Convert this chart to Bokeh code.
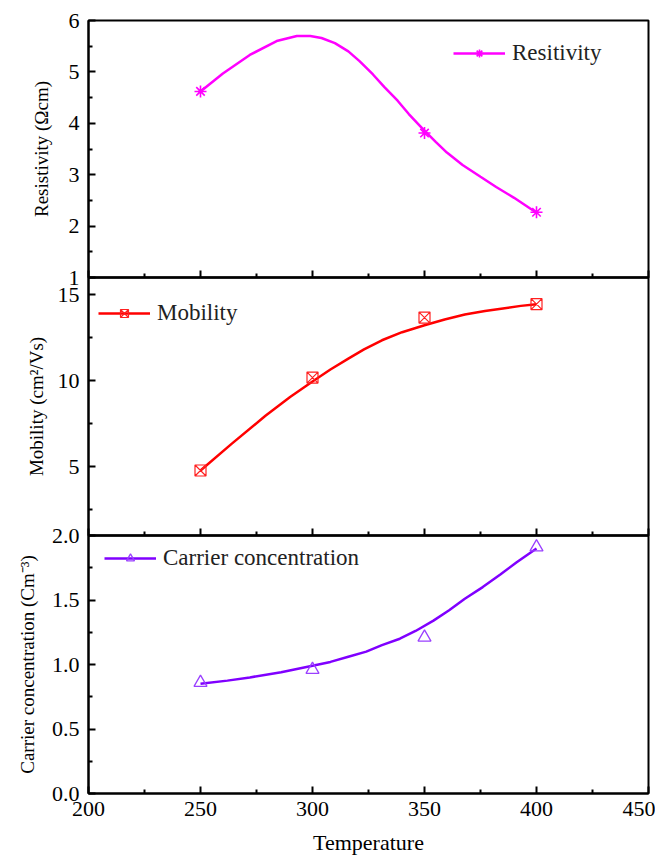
from bokeh.plotting import figure
from bokeh.layouts import column
from bokeh.models import Range1d, FixedTicker, Legend, LegendItem
from bokeh.embed import file_html
from bokeh.resources import INLINE

# ---- data ----
x_ticks = [200, 250, 300, 350, 400, 450]
x_minor = [225, 275, 325, 375, 425]

# Resistivity
res_t = [250, 350, 400]
res_v = [4.62, 3.81, 2.27]
res_curve_t = [250, 260, 272, 284, 293, 299, 304, 310, 316, 321, 327, 332, 338, 343,
               349, 355, 360, 367, 375, 382, 390, 400]
res_curve_v = [4.62, 4.97, 5.33, 5.60, 5.70, 5.70, 5.66, 5.56, 5.40, 5.21, 4.95, 4.71,
               4.44, 4.18, 3.90, 3.64, 3.43, 3.19, 2.96, 2.76, 2.55, 2.26]
res_ticks = [1, 2, 3, 4, 5, 6]
res_minor = [1.5, 2.5, 3.5, 4.5, 5.5]

# Mobility
mob_t = [250, 300, 350, 400]
mob_v = [4.78, 10.18, 13.67, 14.45]
mob_curve_t = [250, 264, 279, 290, 300, 308, 316, 323, 331, 340, 350, 359, 368, 377, 385, 393, 400]
mob_curve_v = [4.78, 6.34, 7.96, 9.05, 9.95, 10.65, 11.28, 11.82, 12.35, 12.82, 13.22,
               13.56, 13.85, 14.05, 14.20, 14.35, 14.45]
mob_ticks = [5, 10, 15]
mob_minor = [2.5, 7.5, 12.5]

# Carrier concentration
car_t = [250, 300, 350, 400]
car_v = [0.86, 0.96, 1.21, 1.91]
car_curve_t = [250, 262, 272, 286, 300, 308, 316, 324, 331, 339, 346, 354, 361, 368, 376, 384, 391, 400]
car_curve_v = [0.85, 0.875, 0.90, 0.94, 0.99, 1.02, 1.06, 1.10, 1.15, 1.20, 1.26, 1.34,
               1.42, 1.51, 1.60, 1.70, 1.79, 1.90]
car_ticks = [0.0, 0.5, 1.0, 1.5, 2.0]
car_tick_labels = ["0.0", "0.5", "1.0", "1.5", "2.0"]
car_minor = [0.25, 0.75, 1.25, 1.75]

FONT = "Liberation Serif"
TICK_FS = "22px"
YLABEL_FS = "19px"
XLABEL_FS = "22px"
LEG_FS = "23px"


def make_fig(yr, ticks, minor, frame_h, top, bottom, ylabel, standoff, show_x):
    p = figure(frame_width=560, frame_height=frame_h, output_backend="svg",
               toolbar_location=None, x_range=Range1d(200, 450), y_range=Range1d(*yr),
               min_border_left=88, min_border_right=7, min_border_top=top,
               min_border_bottom=bottom)
    p.grid.visible = False
    p.outline_line_color = "black"
    p.outline_line_width = 2
    p.outline_line_alpha = 1
    p.background_fill_color = None
    p.border_fill_color = None
    for ax in (p.xaxis[0], p.yaxis[0]):
        ax.axis_line_width = 2
        ax.axis_line_color = "black"
        ax.major_tick_in = 7
        ax.major_tick_out = 0
        ax.minor_tick_in = 4
        ax.minor_tick_out = 0
        ax.major_tick_line_width = 2
        ax.minor_tick_line_width = 2
        ax.major_label_text_font = FONT
        ax.major_label_text_font_size = TICK_FS
        ax.major_label_text_color = "black"
        ax.axis_label_text_font = FONT
        ax.axis_label_text_font_style = "normal"
        ax.axis_label_text_color = "black"
    p.xaxis.ticker = FixedTicker(ticks=x_ticks, minor_ticks=x_minor)
    p.yaxis.ticker = FixedTicker(ticks=ticks, minor_ticks=minor)
    p.yaxis.axis_label = ylabel
    p.yaxis.axis_label_text_font_size = YLABEL_FS
    p.yaxis.major_label_standoff = 9
    p.yaxis.axis_label_standoff = standoff
    if show_x:
        p.xaxis.axis_label = "Temperature"
        p.xaxis.axis_label_text_font_size = XLABEL_FS
        p.xaxis.major_label_standoff = 8
        p.xaxis.axis_label_standoff = 11
    else:
        p.xaxis.major_label_text_font_size = "1px"
        p.xaxis.major_label_text_color = None
        p.xaxis.major_label_standoff = 0
    return p


def add_legend(p, label, renderers, loc):
    leg = Legend(items=[LegendItem(label=label, renderers=renderers)], location=loc,
                 glyph_width=52, glyph_height=20, label_standoff=7,
                 label_text_font=FONT, label_text_font_size=LEG_FS,
                 label_text_color="#222222",
                 border_line_color=None, background_fill_alpha=0,
                 padding=0, margin=0)
    p.add_layout(leg)


# Panel 1 : resistivity
p1 = make_fig((1, 6), res_ticks, res_minor, 257, 20, 12, "Resistivity (Ωcm)", 14, False)
l1 = p1.line(res_curve_t, res_curve_v, line_color="#ff00ff", line_width=2.5)
s1 = p1.scatter(res_t, res_v, marker="asterisk", size=12, line_color="#ff00ff", line_width=1.6)
add_legend(p1, "Resitivity", [l1, s1], (365, 211))

# Panel 2 : mobility
p2 = make_fig((1, 16), mob_ticks, mob_minor, 258, 12, 12, "Mobility (cm²/Vs)", 8, False)
p2.styles = {"margin-top": "-24px"}
l2 = p2.line(mob_curve_t, mob_curve_v, line_color="#ff0000", line_width=2.5)
s2 = p2.scatter(mob_t, mob_v, marker="square_x", size=11, fill_color=None,
                line_color="#ff2020", line_width=1.2)
add_legend(p2, "Mobility", [l2, s2], (10, 209))

# Panel 3 : carrier concentration
p3 = make_fig((0, 2), car_ticks, car_minor, 258, 12, 62, "Carrier concentration (Cm⁻³)", 11, True)
p3.styles = {"margin-top": "-24px"}
p3.yaxis.major_label_overrides = dict(zip(car_ticks, car_tick_labels))
l3 = p3.line(car_curve_t, car_curve_v, line_color="#8000ff", line_width=2.5)
s3 = p3.scatter(car_t, car_v, marker="triangle", size=13, fill_color=None,
                line_color="#9a40ff", line_width=1.3)
add_legend(p3, "Carrier concentration", [l3, s3], (16, 222))

layout = column(p1, p2, p3, spacing=0)
open("out.html", "w").write(file_html(layout, INLINE))
